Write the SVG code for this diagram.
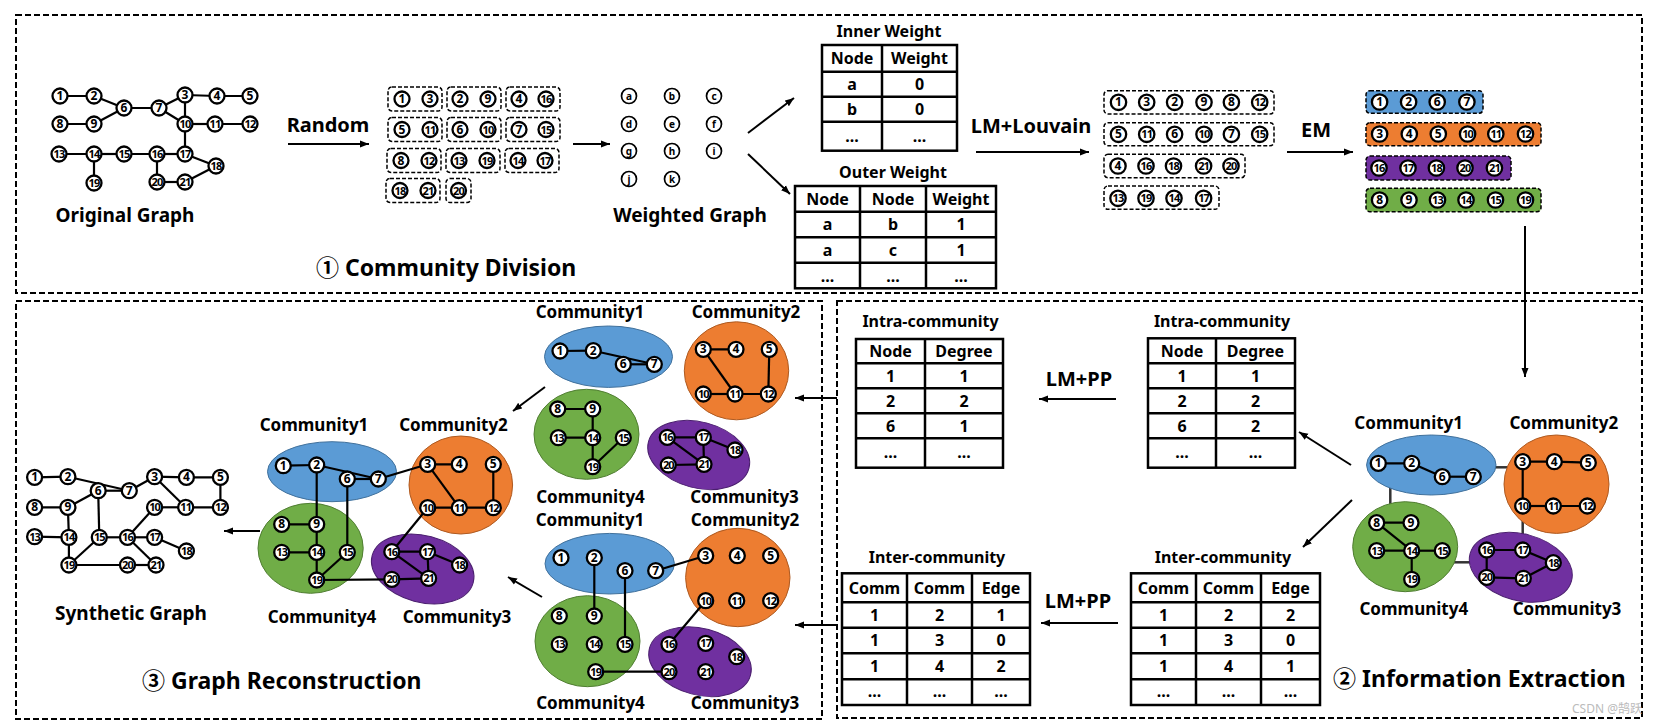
<svg xmlns="http://www.w3.org/2000/svg" width="1655" height="727" viewBox="0 0 1655 727">
<defs>
<marker id="ah" markerUnits="userSpaceOnUse" markerWidth="10" markerHeight="8" refX="9" refY="4" orient="auto"><path d="M0,0.5 L9,4 L0,7.5 z" fill="#000"/></marker>
<style>
text{font-family:"Noto Sans","Liberation Sans","Noto Sans CJK SC",sans-serif;font-weight:bold;fill:#000}
.panel{fill:none;stroke:#000;stroke-width:2;stroke-dasharray:6 3}
.box{fill:none;stroke:#000;stroke-width:1.5;stroke-dasharray:4 2}
.n circle{fill:#fff;stroke:#000;stroke-width:2.3}
.n text{font-size:12px;text-anchor:middle}
.n text.d{font-size:11px;letter-spacing:-0.9px}
.w circle{fill:#fff;stroke:#000;stroke-width:1.7}
.w text{font-size:10px;text-anchor:middle}
.e line{stroke:#000;stroke-width:2.2}
.arr{stroke:#000;stroke-width:2;fill:none;marker-end:url(#ah)}
.tb rect,.tb line{fill:none;stroke:#000;stroke-width:2.5}
.tb text{font-size:16px;text-anchor:middle}
.ttl{font-size:17px;text-anchor:middle}
.lbl{font-size:19px;text-anchor:middle}
.op{font-size:20px;text-anchor:middle}
.sec{font-size:23px}
.cl{font-size:17px;text-anchor:middle}
.blue{fill:#5B9BD5;stroke:#41719C;stroke-width:1}
.orange{fill:#ED7D31;stroke:#AE5A21;stroke-width:1}
.green{fill:#70AD47;stroke:#507E32;stroke-width:1}
.purple{fill:#7030A0;stroke:#4B1F6F;stroke-width:1}
.cb{stroke:#000;stroke-width:1.5;stroke-dasharray:4 2}
.ic line{stroke:#333;stroke-width:2.5}
</style>
</defs>
<rect width="1655" height="727" fill="#fff"/>

<!-- Panels -->
<g id="panels">
<rect class="panel" x="16" y="15" width="1626" height="278"/>
<rect class="panel" x="16" y="301" width="806" height="418"/>
<rect class="panel" x="837" y="301" width="805" height="417"/>
</g>

<!-- Connectors -->
<g id="connectors">
<line class="arr" x1="288" y1="144" x2="369" y2="144"/>
<line class="arr" x1="573" y1="144" x2="610" y2="144"/>
<line class="arr" x1="748" y1="133" x2="794" y2="98"/>
<line class="arr" x1="748" y1="154" x2="790" y2="194"/>
<line class="arr" x1="976" y1="152" x2="1089" y2="152"/>
<line class="arr" x1="1287" y1="152" x2="1353" y2="152"/>
<line class="arr" x1="1525" y1="226" x2="1525" y2="377"/>
<line class="arr" x1="1351" y1="465" x2="1299" y2="432"/>
<line class="arr" x1="1352" y1="500" x2="1303" y2="547"/>
<line class="arr" x1="1116" y1="399" x2="1039" y2="399"/>
<line class="arr" x1="1118" y1="623" x2="1041" y2="623"/>
<line class="arr" x1="837" y1="398" x2="795" y2="398"/>
<line class="arr" x1="837" y1="625" x2="795" y2="625"/>
<line class="arr" x1="545" y1="387" x2="513" y2="411"/>
<line class="arr" x1="542" y1="597" x2="508" y2="577"/>
<line class="arr" x1="260" y1="531" x2="224" y2="531"/>
</g>

<!-- Operation labels -->
<g id="op-labels">
<text class="op" x="328" y="132">Random</text>
<text class="op" x="1031" y="133">LM+Louvain</text>
<text class="op" x="1316" y="137">EM</text>
<text class="op" x="1079" y="386">LM+PP</text>
<text class="op" x="1078" y="608">LM+PP</text>
</g>

<!-- Section titles -->
<g id="section-titles">
<text class="sec" x="316" y="276">① Community Division</text>
<text class="sec" x="142" y="689">③ Graph Reconstruction</text>
<text class="sec" x="1333" y="687">② Information Extraction</text>
<text x="1572" y="713" style="font-size:12px;font-weight:normal;fill:#bbb">CSDN @鹄跃</text>
</g>

<!-- Original Graph -->
<g id="original-graph">
<g class="e">
<line x1="60" y1="96" x2="94" y2="96"/><line x1="94" y1="96" x2="124" y2="108"/><line x1="94" y1="124" x2="124" y2="108"/><line x1="60" y1="124" x2="94" y2="124"/>
<line x1="124" y1="108" x2="159" y2="108"/><line x1="159" y1="108" x2="185" y2="95"/><line x1="159" y1="108" x2="185" y2="124"/><line x1="185" y1="95" x2="185" y2="124"/>
<line x1="185" y1="95" x2="217" y2="96"/><line x1="217" y1="96" x2="250" y2="96"/><line x1="185" y1="124" x2="215" y2="124"/><line x1="215" y1="124" x2="250" y2="124"/>
<line x1="185" y1="124" x2="185" y2="154"/><line x1="59" y1="154" x2="94" y2="154"/><line x1="94" y1="154" x2="124" y2="154"/><line x1="124" y1="154" x2="157" y2="154"/>
<line x1="157" y1="154" x2="185" y2="154"/><line x1="94" y1="154" x2="94" y2="183"/><line x1="157" y1="154" x2="157" y2="182"/><line x1="157" y1="182" x2="185" y2="182"/>
<line x1="185" y1="182" x2="216" y2="166"/><line x1="185" y1="154" x2="216" y2="166"/>
</g>
<g id="og-1" class="n"><circle cx="60" cy="96" r="7.5"/><text x="60" y="100">1</text></g>
<g id="og-2" class="n"><circle cx="94" cy="96" r="7.5"/><text x="94" y="100">2</text></g>
<g id="og-3" class="n"><circle cx="185" cy="95" r="7.5"/><text x="185" y="99">3</text></g>
<g id="og-4" class="n"><circle cx="217" cy="96" r="7.5"/><text x="217" y="100">4</text></g>
<g id="og-5" class="n"><circle cx="250" cy="96" r="7.5"/><text x="250" y="100">5</text></g>
<g id="og-6" class="n"><circle cx="124" cy="108" r="7.5"/><text x="124" y="112">6</text></g>
<g id="og-7" class="n"><circle cx="159" cy="108" r="7.5"/><text x="159" y="112">7</text></g>
<g id="og-8" class="n"><circle cx="60" cy="124" r="7.5"/><text x="60" y="128">8</text></g>
<g id="og-9" class="n"><circle cx="94" cy="124" r="7.5"/><text x="94" y="128">9</text></g>
<g id="og-10" class="n"><circle cx="185" cy="124" r="7.5"/><text class="d" x="185" y="128">10</text></g>
<g id="og-11" class="n"><circle cx="215" cy="124" r="7.5"/><text class="d" x="215" y="128">11</text></g>
<g id="og-12" class="n"><circle cx="250" cy="124" r="7.5"/><text class="d" x="250" y="128">12</text></g>
<g id="og-13" class="n"><circle cx="59" cy="154" r="7.5"/><text class="d" x="59" y="158">13</text></g>
<g id="og-14" class="n"><circle cx="94" cy="154" r="7.5"/><text class="d" x="94" y="158">14</text></g>
<g id="og-15" class="n"><circle cx="124" cy="154" r="7.5"/><text class="d" x="124" y="158">15</text></g>
<g id="og-16" class="n"><circle cx="157" cy="154" r="7.5"/><text class="d" x="157" y="158">16</text></g>
<g id="og-17" class="n"><circle cx="185" cy="154" r="7.5"/><text class="d" x="185" y="158">17</text></g>
<g id="og-18" class="n"><circle cx="216" cy="166" r="7.5"/><text class="d" x="216" y="170">18</text></g>
<g id="og-19" class="n"><circle cx="94" cy="183" r="7.5"/><text class="d" x="94" y="187">19</text></g>
<g id="og-20" class="n"><circle cx="157" cy="182" r="7.5"/><text class="d" x="157" y="186">20</text></g>
<g id="og-21" class="n"><circle cx="185" cy="182" r="7.5"/><text class="d" x="185" y="186">21</text></g>
<text class="lbl" x="125" y="222">Original Graph</text>
</g>

<!-- Random pairs -->
<g id="random-pairs">
<rect class="box" x="388" y="87" width="54" height="24" rx="4"/><rect class="box" x="447" y="87" width="54" height="24" rx="4"/><rect class="box" x="506" y="87" width="54" height="24" rx="4"/>
<rect class="box" x="388" y="117.5" width="54" height="24" rx="4"/><rect class="box" x="447" y="117.5" width="54" height="24" rx="4"/><rect class="box" x="506" y="117.5" width="54" height="24" rx="4"/>
<rect class="box" x="387" y="148.5" width="54" height="24" rx="4"/><rect class="box" x="446" y="148.5" width="54" height="24" rx="4"/><rect class="box" x="505" y="148.5" width="54" height="24" rx="4"/>
<rect class="box" x="386" y="178.5" width="54" height="24" rx="4"/><rect class="box" x="446" y="178.5" width="25" height="24" rx="4"/>
<g id="rp-1" class="n"><circle cx="402" cy="99" r="7.5"/><text x="402" y="103">1</text></g>
<g id="rp-3" class="n"><circle cx="430" cy="99" r="7.5"/><text x="430" y="103">3</text></g>
<g id="rp-2" class="n"><circle cx="460" cy="99" r="7.5"/><text x="460" y="103">2</text></g>
<g id="rp-9" class="n"><circle cx="488" cy="99" r="7.5"/><text x="488" y="103">9</text></g>
<g id="rp-4" class="n"><circle cx="519" cy="99" r="7.5"/><text x="519" y="103">4</text></g>
<g id="rp-16" class="n"><circle cx="546" cy="99" r="7.5"/><text class="d" x="546" y="103">16</text></g>
<g id="rp-5" class="n"><circle cx="402" cy="129.5" r="7.5"/><text x="402" y="133.5">5</text></g>
<g id="rp-11" class="n"><circle cx="430" cy="129.5" r="7.5"/><text class="d" x="430" y="133.5">11</text></g>
<g id="rp-6" class="n"><circle cx="460" cy="129.5" r="7.5"/><text x="460" y="133.5">6</text></g>
<g id="rp-10" class="n"><circle cx="488" cy="129.5" r="7.5"/><text class="d" x="488" y="133.5">10</text></g>
<g id="rp-7" class="n"><circle cx="519" cy="129.5" r="7.5"/><text x="519" y="133.5">7</text></g>
<g id="rp-15" class="n"><circle cx="546" cy="129.5" r="7.5"/><text class="d" x="546" y="133.5">15</text></g>
<g id="rp-8" class="n"><circle cx="401" cy="160.5" r="7.5"/><text x="401" y="164.5">8</text></g>
<g id="rp-12" class="n"><circle cx="429" cy="160.5" r="7.5"/><text class="d" x="429" y="164.5">12</text></g>
<g id="rp-13" class="n"><circle cx="459" cy="160.5" r="7.5"/><text class="d" x="459" y="164.5">13</text></g>
<g id="rp-19" class="n"><circle cx="487" cy="160.5" r="7.5"/><text class="d" x="487" y="164.5">19</text></g>
<g id="rp-14" class="n"><circle cx="518" cy="160.5" r="7.5"/><text class="d" x="518" y="164.5">14</text></g>
<g id="rp-17" class="n"><circle cx="545" cy="160.5" r="7.5"/><text class="d" x="545" y="164.5">17</text></g>
<g id="rp-18" class="n"><circle cx="400" cy="190.5" r="7.5"/><text class="d" x="400" y="194.5">18</text></g>
<g id="rp-21" class="n"><circle cx="428" cy="190.5" r="7.5"/><text class="d" x="428" y="194.5">21</text></g>
<g id="rp-20" class="n"><circle cx="458.5" cy="190.5" r="7.5"/><text class="d" x="458.5" y="194.5">20</text></g>
</g>

<!-- Weighted Graph -->
<g id="weighted-graph">
<g id="wg-a" class="w"><circle cx="629" cy="96" r="7.5"/><text x="629" y="99.5">a</text></g>
<g id="wg-b" class="w"><circle cx="672" cy="96" r="7.5"/><text x="672" y="99.5">b</text></g>
<g id="wg-c" class="w"><circle cx="714" cy="96" r="7.5"/><text x="714" y="99.5">c</text></g>
<g id="wg-d" class="w"><circle cx="629" cy="124" r="7.5"/><text x="629" y="127.5">d</text></g>
<g id="wg-e" class="w"><circle cx="672" cy="124" r="7.5"/><text x="672" y="127.5">e</text></g>
<g id="wg-f" class="w"><circle cx="714" cy="124" r="7.5"/><text x="714" y="127.5">f</text></g>
<g id="wg-g" class="w"><circle cx="629" cy="151" r="7.5"/><text x="629" y="154.5">g</text></g>
<g id="wg-h" class="w"><circle cx="672" cy="151" r="7.5"/><text x="672" y="154.5">h</text></g>
<g id="wg-i" class="w"><circle cx="714" cy="151" r="7.5"/><text x="714" y="154.5">i</text></g>
<g id="wg-j" class="w"><circle cx="629" cy="179" r="7.5"/><text x="629" y="182.5">j</text></g>
<g id="wg-k" class="w"><circle cx="672" cy="179" r="7.5"/><text x="672" y="182.5">k</text></g>
<text class="lbl" x="690" y="222">Weighted Graph</text>
</g>

<!-- Inner Weight table -->
<g id="inner-weight" class="tb">
<text class="ttl" x="889" y="37">Inner Weight</text>
<rect x="822" y="45" width="135" height="105.7"/>
<line x1="882" y1="45" x2="882" y2="150.7"/>
<line x1="822" y1="71.7" x2="957" y2="71.7"/><line x1="822" y1="96.7" x2="957" y2="96.7"/><line x1="822" y1="121.7" x2="957" y2="121.7"/>
<text x="852" y="64">Node</text><text x="919.5" y="64">Weight</text>
<text x="852" y="90">a</text><text x="919.5" y="90">0</text>
<text x="852" y="115">b</text><text x="919.5" y="115">0</text>
<text x="852" y="142">...</text><text x="919.5" y="142">...</text>
</g>

<!-- Outer Weight table -->
<g id="outer-weight" class="tb">
<text class="ttl" x="893" y="178">Outer Weight</text>
<rect x="795" y="186" width="201" height="102.3"/>
<line x1="860" y1="186" x2="860" y2="288.3"/><line x1="926" y1="186" x2="926" y2="288.3"/>
<line x1="795" y1="211.7" x2="996" y2="211.7"/><line x1="795" y1="237.3" x2="996" y2="237.3"/><line x1="795" y1="262.7" x2="996" y2="262.7"/>
<text x="827.5" y="204.5">Node</text><text x="893" y="204.5">Node</text><text x="961" y="204.5">Weight</text>
<text x="827.5" y="230">a</text><text x="893" y="230">b</text><text x="961" y="230">1</text>
<text x="827.5" y="255.7">a</text><text x="893" y="255.7">c</text><text x="961" y="255.7">1</text>
<text x="827.5" y="282">...</text><text x="893" y="282">...</text><text x="961" y="282">...</text>
</g>

<!-- Louvain groups -->
<g id="louvain-groups">
<rect class="box" x="1104" y="90.7" width="170" height="23.3" rx="4"/>
<rect class="box" x="1104" y="122.7" width="170" height="23" rx="4"/>
<rect class="box" x="1104" y="154.3" width="141" height="23.4" rx="4"/>
<rect class="box" x="1104" y="186" width="115" height="23.3" rx="4"/>
<g id="lv-1" class="n"><circle cx="1118.5" cy="102.3" r="7.7"/><text x="1118.5" y="106.3">1</text></g>
<g id="lv-3" class="n"><circle cx="1146.7" cy="102.3" r="7.7"/><text x="1146.7" y="106.3">3</text></g>
<g id="lv-2" class="n"><circle cx="1174.6" cy="102.3" r="7.7"/><text x="1174.6" y="106.3">2</text></g>
<g id="lv-9" class="n"><circle cx="1204" cy="102.3" r="7.7"/><text x="1204" y="106.3">9</text></g>
<g id="lv-8" class="n"><circle cx="1231.4" cy="102.3" r="7.7"/><text x="1231.4" y="106.3">8</text></g>
<g id="lv-12" class="n"><circle cx="1259.7" cy="102.3" r="7.7"/><text class="d" x="1259.7" y="106.3">12</text></g>
<g id="lv-5" class="n"><circle cx="1118.5" cy="134.3" r="7.7"/><text x="1118.5" y="138.3">5</text></g>
<g id="lv-11" class="n"><circle cx="1146.7" cy="134.3" r="7.7"/><text class="d" x="1146.7" y="138.3">11</text></g>
<g id="lv-6" class="n"><circle cx="1174.6" cy="134.3" r="7.7"/><text x="1174.6" y="138.3">6</text></g>
<g id="lv-10" class="n"><circle cx="1204" cy="134.3" r="7.7"/><text class="d" x="1204" y="138.3">10</text></g>
<g id="lv-7" class="n"><circle cx="1231.4" cy="134.3" r="7.7"/><text x="1231.4" y="138.3">7</text></g>
<g id="lv-15" class="n"><circle cx="1259.7" cy="134.3" r="7.7"/><text class="d" x="1259.7" y="138.3">15</text></g>
<g id="lv-4" class="n"><circle cx="1118" cy="166" r="7.7"/><text x="1118" y="170">4</text></g>
<g id="lv-16" class="n"><circle cx="1146" cy="166" r="7.7"/><text class="d" x="1146" y="170">16</text></g>
<g id="lv-18" class="n"><circle cx="1173.5" cy="166" r="7.7"/><text class="d" x="1173.5" y="170">18</text></g>
<g id="lv-21" class="n"><circle cx="1203.6" cy="166" r="7.7"/><text class="d" x="1203.6" y="170">21</text></g>
<g id="lv-20" class="n"><circle cx="1231" cy="166" r="7.7"/><text class="d" x="1231" y="170">20</text></g>
<g id="lv-13" class="n"><circle cx="1118" cy="198.3" r="7.7"/><text class="d" x="1118" y="202.3">13</text></g>
<g id="lv-19" class="n"><circle cx="1146" cy="198.3" r="7.7"/><text class="d" x="1146" y="202.3">19</text></g>
<g id="lv-14" class="n"><circle cx="1174" cy="198.3" r="7.7"/><text class="d" x="1174" y="202.3">14</text></g>
<g id="lv-17" class="n"><circle cx="1203.6" cy="198.3" r="7.7"/><text class="d" x="1203.6" y="202.3">17</text></g>
</g>

<!-- EM communities -->
<g id="em-communities">
<rect class="cb" x="1366" y="90.7" width="117" height="22.6" rx="4" fill="#5B9BD5"/>
<rect class="cb" x="1366" y="122.7" width="175" height="23" rx="4" fill="#ED7D31"/>
<rect class="cb" x="1366" y="156" width="145" height="24" rx="4" fill="#7030A0"/>
<rect class="cb" x="1366" y="188.3" width="175" height="23.4" rx="4" fill="#70AD47"/>
<g id="em-1" class="n"><circle cx="1379.6" cy="102" r="7.7"/><text x="1379.6" y="106">1</text></g>
<g id="em-2" class="n"><circle cx="1408.6" cy="102" r="7.7"/><text x="1408.6" y="106">2</text></g>
<g id="em-6" class="n"><circle cx="1437.2" cy="102" r="7.7"/><text x="1437.2" y="106">6</text></g>
<g id="em-7" class="n"><circle cx="1466.9" cy="102" r="7.7"/><text x="1466.9" y="106">7</text></g>
<g id="em-3" class="n"><circle cx="1379.6" cy="134" r="7.7"/><text x="1379.6" y="138">3</text></g>
<g id="em-4" class="n"><circle cx="1409.3" cy="134" r="7.7"/><text x="1409.3" y="138">4</text></g>
<g id="em-5" class="n"><circle cx="1438.3" cy="134" r="7.7"/><text x="1438.3" y="138">5</text></g>
<g id="em-10" class="n"><circle cx="1467.6" cy="134" r="7.7"/><text class="d" x="1467.6" y="138">10</text></g>
<g id="em-11" class="n"><circle cx="1495.8" cy="134" r="7.7"/><text class="d" x="1495.8" y="138">11</text></g>
<g id="em-12" class="n"><circle cx="1525.5" cy="134" r="7.7"/><text class="d" x="1525.5" y="138">12</text></g>
<g id="em-16" class="n"><circle cx="1379" cy="168" r="7.7"/><text class="d" x="1379" y="172">16</text></g>
<g id="em-17" class="n"><circle cx="1408" cy="168" r="7.7"/><text class="d" x="1408" y="172">17</text></g>
<g id="em-18" class="n"><circle cx="1436.4" cy="168" r="7.7"/><text class="d" x="1436.4" y="172">18</text></g>
<g id="em-20" class="n"><circle cx="1465" cy="168" r="7.7"/><text class="d" x="1465" y="172">20</text></g>
<g id="em-21" class="n"><circle cx="1494.4" cy="168" r="7.7"/><text class="d" x="1494.4" y="172">21</text></g>
<g id="em-8" class="n"><circle cx="1379.6" cy="200" r="7.7"/><text x="1379.6" y="204">8</text></g>
<g id="em-9" class="n"><circle cx="1409" cy="200" r="7.7"/><text x="1409" y="204">9</text></g>
<g id="em-13" class="n"><circle cx="1437.5" cy="200" r="7.7"/><text class="d" x="1437.5" y="204">13</text></g>
<g id="em-14" class="n"><circle cx="1466" cy="200" r="7.7"/><text class="d" x="1466" y="204">14</text></g>
<g id="em-15" class="n"><circle cx="1495.5" cy="200" r="7.7"/><text class="d" x="1495.5" y="204">15</text></g>
<g id="em-19" class="n"><circle cx="1525.5" cy="200" r="7.7"/><text class="d" x="1525.5" y="204">19</text></g>
</g>

<!-- Panel 2: community graph -->
<g id="ie-community-graph">
<g class="ic">
<line x1="1490" y1="467.3" x2="1512" y2="467.3"/>
<line x1="1390.3" y1="485" x2="1390.3" y2="508"/>
<line x1="1522.7" y1="518" x2="1522.7" y2="540"/>
<line x1="1450" y1="562.3" x2="1474" y2="562.3"/>
</g>
<ellipse class="blue" cx="1431.3" cy="465" rx="64.7" ry="30"/>
<ellipse class="orange" cx="1556.5" cy="484.2" rx="52.5" ry="49.2"/>
<ellipse class="green" cx="1405.2" cy="546.7" rx="52.5" ry="45"/>
<ellipse class="purple" cx="1520.8" cy="567.3" rx="52.5" ry="33.3" transform="rotate(15 1520.8 567.3)"/>
<g class="e">
<line x1="1378.3" y1="463.3" x2="1411.7" y2="463.3"/><line x1="1411.7" y1="463.3" x2="1442.3" y2="476.7"/><line x1="1442.3" y1="476.7" x2="1473.3" y2="476.7"/>
<line x1="1522.7" y1="461.7" x2="1554.3" y2="461.7"/><line x1="1554.3" y1="461.7" x2="1588.3" y2="462.7"/><line x1="1522.7" y1="461.7" x2="1522.7" y2="506"/><line x1="1522.7" y1="506" x2="1553.3" y2="506"/><line x1="1553.3" y1="506" x2="1587.3" y2="506"/>
<line x1="1376.7" y1="522.7" x2="1411" y2="522.7"/><line x1="1376.7" y1="522.7" x2="1411.7" y2="550.7"/><line x1="1376.7" y1="550.7" x2="1411.7" y2="550.7"/><line x1="1411.7" y1="550.7" x2="1442.3" y2="550.7"/><line x1="1411.7" y1="550.7" x2="1411.7" y2="579.3"/>
<line x1="1486.7" y1="550" x2="1522.7" y2="550"/><line x1="1522.7" y1="550" x2="1553.3" y2="562.7"/><line x1="1553.3" y1="562.7" x2="1523.3" y2="578.3"/><line x1="1523.3" y1="578.3" x2="1486.7" y2="577.3"/><line x1="1486.7" y1="577.3" x2="1486.7" y2="550"/>
</g>
<g id="ie-1" class="n"><circle cx="1378.3" cy="463.3" r="7.5"/><text x="1378.3" y="467.3">1</text></g>
<g id="ie-2" class="n"><circle cx="1411.7" cy="463.3" r="7.5"/><text x="1411.7" y="467.3">2</text></g>
<g id="ie-6" class="n"><circle cx="1442.3" cy="476.7" r="7.5"/><text x="1442.3" y="480.7">6</text></g>
<g id="ie-7" class="n"><circle cx="1473.3" cy="476.7" r="7.5"/><text x="1473.3" y="480.7">7</text></g>
<g id="ie-3" class="n"><circle cx="1522.7" cy="461.7" r="7.5"/><text x="1522.7" y="465.7">3</text></g>
<g id="ie-4" class="n"><circle cx="1554.3" cy="461.7" r="7.5"/><text x="1554.3" y="465.7">4</text></g>
<g id="ie-5" class="n"><circle cx="1588.3" cy="462.7" r="7.5"/><text x="1588.3" y="466.7">5</text></g>
<g id="ie-10" class="n"><circle cx="1522.7" cy="506" r="7.5"/><text class="d" x="1522.7" y="510">10</text></g>
<g id="ie-11" class="n"><circle cx="1553.3" cy="506" r="7.5"/><text class="d" x="1553.3" y="510">11</text></g>
<g id="ie-12" class="n"><circle cx="1587.3" cy="506" r="7.5"/><text class="d" x="1587.3" y="510">12</text></g>
<g id="ie-8" class="n"><circle cx="1376.7" cy="522.7" r="7.5"/><text x="1376.7" y="526.7">8</text></g>
<g id="ie-9" class="n"><circle cx="1411" cy="522.7" r="7.5"/><text x="1411" y="526.7">9</text></g>
<g id="ie-13" class="n"><circle cx="1376.7" cy="550.7" r="7.5"/><text class="d" x="1376.7" y="554.7">13</text></g>
<g id="ie-14" class="n"><circle cx="1411.7" cy="550.7" r="7.5"/><text class="d" x="1411.7" y="554.7">14</text></g>
<g id="ie-15" class="n"><circle cx="1442.3" cy="550.7" r="7.5"/><text class="d" x="1442.3" y="554.7">15</text></g>
<g id="ie-19" class="n"><circle cx="1411.7" cy="579.3" r="7.5"/><text class="d" x="1411.7" y="583.3">19</text></g>
<g id="ie-16" class="n"><circle cx="1486.7" cy="550" r="7.5"/><text class="d" x="1486.7" y="554">16</text></g>
<g id="ie-17" class="n"><circle cx="1522.7" cy="550" r="7.5"/><text class="d" x="1522.7" y="554">17</text></g>
<g id="ie-18" class="n"><circle cx="1553.3" cy="562.7" r="7.5"/><text class="d" x="1553.3" y="566.7">18</text></g>
<g id="ie-20" class="n"><circle cx="1486.7" cy="577.3" r="7.5"/><text class="d" x="1486.7" y="581.3">20</text></g>
<g id="ie-21" class="n"><circle cx="1523.3" cy="578.3" r="7.5"/><text class="d" x="1523.3" y="582.3">21</text></g>
<text class="cl" x="1408.7" y="429">Community1</text>
<text class="cl" x="1563.8" y="429">Community2</text>
<text class="cl" x="1413.8" y="615">Community4</text>
<text class="cl" x="1567" y="615">Community3</text>
</g>

<!-- Panel 2 tables -->
<g id="intra-right" class="tb">
<text class="ttl" x="1222" y="327">Intra-community</text>
<rect x="1148" y="338.3" width="147" height="129.4"/>
<line x1="1216" y1="338.3" x2="1216" y2="467.7"/>
<line x1="1148" y1="363.3" x2="1295" y2="363.3"/><line x1="1148" y1="388.3" x2="1295" y2="388.3"/><line x1="1148" y1="413.3" x2="1295" y2="413.3"/><line x1="1148" y1="438.3" x2="1295" y2="438.3"/>
<text x="1182" y="356.5">Node</text><text x="1255.5" y="356.5">Degree</text>
<text x="1182" y="381.5">1</text><text x="1255.5" y="381.5">1</text>
<text x="1182" y="406.5">2</text><text x="1255.5" y="406.5">2</text>
<text x="1182" y="431.5">6</text><text x="1255.5" y="431.5">2</text>
<text x="1182" y="458">...</text><text x="1255.5" y="458">...</text>
</g>
<g id="inter-right" class="tb">
<text class="ttl" x="1223" y="563">Inter-community</text>
<rect x="1131" y="573.3" width="189" height="131.7"/>
<line x1="1196" y1="573.3" x2="1196" y2="705"/><line x1="1261" y1="573.3" x2="1261" y2="705"/>
<line x1="1131" y1="602.3" x2="1320" y2="602.3"/><line x1="1131" y1="627.7" x2="1320" y2="627.7"/><line x1="1131" y1="653.3" x2="1320" y2="653.3"/><line x1="1131" y1="679.3" x2="1320" y2="679.3"/>
<text x="1163.5" y="593.5">Comm</text><text x="1228.5" y="593.5">Comm</text><text x="1290.5" y="593.5">Edge</text>
<text x="1163.5" y="620.7">1</text><text x="1228.5" y="620.7">2</text><text x="1290.5" y="620.7">2</text>
<text x="1163.5" y="646.2">1</text><text x="1228.5" y="646.2">3</text><text x="1290.5" y="646.2">0</text>
<text x="1163.5" y="672">1</text><text x="1228.5" y="672">4</text><text x="1290.5" y="672">1</text>
<text x="1163.5" y="697">...</text><text x="1228.5" y="697">...</text><text x="1290.5" y="697">...</text>
</g>
<g id="intra-left" class="tb">
<text class="ttl" x="930.5" y="327">Intra-community</text>
<rect x="856" y="339" width="147" height="128.7"/>
<line x1="925" y1="339" x2="925" y2="467.7"/>
<line x1="856" y1="363.3" x2="1003" y2="363.3"/><line x1="856" y1="388.3" x2="1003" y2="388.3"/><line x1="856" y1="413.3" x2="1003" y2="413.3"/><line x1="856" y1="438.3" x2="1003" y2="438.3"/>
<text x="890.5" y="357">Node</text><text x="964" y="357">Degree</text>
<text x="890.5" y="381.5">1</text><text x="964" y="381.5">1</text>
<text x="890.5" y="406.5">2</text><text x="964" y="406.5">2</text>
<text x="890.5" y="431.5">6</text><text x="964" y="431.5">1</text>
<text x="890.5" y="458">...</text><text x="964" y="458">...</text>
</g>
<g id="inter-left" class="tb">
<text class="ttl" x="937" y="563">Inter-community</text>
<rect x="842" y="573.3" width="188" height="131.7"/>
<line x1="907" y1="573.3" x2="907" y2="705"/><line x1="972" y1="573.3" x2="972" y2="705"/>
<line x1="842" y1="602.3" x2="1030" y2="602.3"/><line x1="842" y1="627.7" x2="1030" y2="627.7"/><line x1="842" y1="653.3" x2="1030" y2="653.3"/><line x1="842" y1="679.3" x2="1030" y2="679.3"/>
<text x="874.5" y="593.5">Comm</text><text x="939.5" y="593.5">Comm</text><text x="1001" y="593.5">Edge</text>
<text x="874.5" y="620.7">1</text><text x="939.5" y="620.7">2</text><text x="1001" y="620.7">1</text>
<text x="874.5" y="646.2">1</text><text x="939.5" y="646.2">3</text><text x="1001" y="646.2">0</text>
<text x="874.5" y="672">1</text><text x="939.5" y="672">4</text><text x="1001" y="672">2</text>
<text x="874.5" y="697">...</text><text x="939.5" y="697">...</text><text x="1001" y="697">...</text>
</g>

<!-- Panel 3: top communities (intra) -->
<g id="gr-intra">
<ellipse class="blue" cx="608.5" cy="356.7" rx="64" ry="30.7"/>
<ellipse class="orange" cx="736.5" cy="370.8" rx="52.2" ry="49"/>
<ellipse class="green" cx="586.5" cy="434.3" rx="52.5" ry="45"/>
<ellipse class="purple" cx="698.7" cy="455" rx="52" ry="33" transform="rotate(15 698.7 455)"/>
<g class="e">
<line x1="560" y1="351" x2="593.3" y2="350.7"/><line x1="593.3" y1="350.7" x2="654.3" y2="364.3"/><line x1="623.3" y1="364.3" x2="654.3" y2="364.3"/>
<line x1="703.3" y1="349.3" x2="736" y2="349.3"/><line x1="703.3" y1="349.3" x2="735" y2="394"/><line x1="703.3" y1="394" x2="735" y2="394"/><line x1="735" y1="394" x2="768.3" y2="394"/><line x1="769.3" y1="349.3" x2="768.3" y2="394"/>
<line x1="557.7" y1="409" x2="592.7" y2="409"/><line x1="592.7" y1="409" x2="592.7" y2="466.7"/><line x1="558.3" y1="437.7" x2="592.7" y2="437.7"/><line x1="623.3" y1="437.7" x2="592.7" y2="466.7"/>
<line x1="667.3" y1="437.3" x2="703.3" y2="437.3"/><line x1="667.3" y1="437.3" x2="704" y2="464.3"/><line x1="703.3" y1="437.3" x2="704" y2="464.3"/><line x1="703.3" y1="437.3" x2="735" y2="450"/><line x1="668.3" y1="465" x2="704" y2="464.3"/>
</g>
<g id="gi-1" class="n"><circle cx="560" cy="351" r="7.5"/><text x="560" y="355">1</text></g>
<g id="gi-2" class="n"><circle cx="593.3" cy="350.7" r="7.5"/><text x="593.3" y="354.7">2</text></g>
<g id="gi-6" class="n"><circle cx="623.3" cy="364.3" r="7.5"/><text x="623.3" y="368.3">6</text></g>
<g id="gi-7" class="n"><circle cx="654.3" cy="364.3" r="7.5"/><text x="654.3" y="368.3">7</text></g>
<g id="gi-3" class="n"><circle cx="703.3" cy="349.3" r="7.5"/><text x="703.3" y="353.3">3</text></g>
<g id="gi-4" class="n"><circle cx="736" cy="349.3" r="7.5"/><text x="736" y="353.3">4</text></g>
<g id="gi-5" class="n"><circle cx="769.3" cy="349.3" r="7.5"/><text x="769.3" y="353.3">5</text></g>
<g id="gi-10" class="n"><circle cx="703.3" cy="394" r="7.5"/><text class="d" x="703.3" y="398">10</text></g>
<g id="gi-11" class="n"><circle cx="735" cy="394" r="7.5"/><text class="d" x="735" y="398">11</text></g>
<g id="gi-12" class="n"><circle cx="768.3" cy="394" r="7.5"/><text class="d" x="768.3" y="398">12</text></g>
<g id="gi-8" class="n"><circle cx="557.7" cy="409" r="7.5"/><text x="557.7" y="413">8</text></g>
<g id="gi-9" class="n"><circle cx="592.7" cy="409" r="7.5"/><text x="592.7" y="413">9</text></g>
<g id="gi-13" class="n"><circle cx="558.3" cy="437.7" r="7.5"/><text class="d" x="558.3" y="441.7">13</text></g>
<g id="gi-14" class="n"><circle cx="592.7" cy="437.7" r="7.5"/><text class="d" x="592.7" y="441.7">14</text></g>
<g id="gi-15" class="n"><circle cx="623.3" cy="437.7" r="7.5"/><text class="d" x="623.3" y="441.7">15</text></g>
<g id="gi-19" class="n"><circle cx="592.7" cy="466.7" r="7.5"/><text class="d" x="592.7" y="470.7">19</text></g>
<g id="gi-16" class="n"><circle cx="667.3" cy="437.3" r="7.5"/><text class="d" x="667.3" y="441.3">16</text></g>
<g id="gi-17" class="n"><circle cx="703.3" cy="437.3" r="7.5"/><text class="d" x="703.3" y="441.3">17</text></g>
<g id="gi-18" class="n"><circle cx="735" cy="450" r="7.5"/><text class="d" x="735" y="454">18</text></g>
<g id="gi-20" class="n"><circle cx="668.3" cy="465" r="7.5"/><text class="d" x="668.3" y="469">20</text></g>
<g id="gi-21" class="n"><circle cx="704" cy="464.3" r="7.5"/><text class="d" x="704" y="468.3">21</text></g>
<text class="cl" x="590" y="318">Community1</text>
<text class="cl" x="746" y="318">Community2</text>
<text class="cl" x="590.5" y="503">Community4</text>
<text class="cl" x="744.5" y="503">Community3</text>
</g>

<!-- Panel 3: bottom communities (inter) -->
<g id="gr-inter">
<ellipse class="blue" cx="609.7" cy="563.7" rx="64.7" ry="30.3"/>
<ellipse class="orange" cx="737.8" cy="577.5" rx="52.2" ry="49.2"/>
<ellipse class="green" cx="587.5" cy="641.2" rx="52.5" ry="45.5"/>
<ellipse class="purple" cx="700" cy="661.7" rx="52.3" ry="33.3" transform="rotate(15 700 661.7)"/>
<g class="e">
<line x1="655.7" y1="570.7" x2="705.7" y2="555.7"/><line x1="594.3" y1="557.7" x2="594.3" y2="616"/><line x1="625" y1="570.7" x2="625" y2="644.3"/><line x1="705.7" y1="600.7" x2="669" y2="644.3"/><line x1="595.7" y1="671.7" x2="669" y2="671.7"/>
</g>
<g id="gx-1" class="n"><circle cx="561" cy="557.7" r="7.5"/><text x="561" y="561.7">1</text></g>
<g id="gx-2" class="n"><circle cx="594.3" cy="557.7" r="7.5"/><text x="594.3" y="561.7">2</text></g>
<g id="gx-6" class="n"><circle cx="625" cy="570.7" r="7.5"/><text x="625" y="574.7">6</text></g>
<g id="gx-7" class="n"><circle cx="655.7" cy="570.7" r="7.5"/><text x="655.7" y="574.7">7</text></g>
<g id="gx-3" class="n"><circle cx="705.7" cy="555.7" r="7.5"/><text x="705.7" y="559.7">3</text></g>
<g id="gx-4" class="n"><circle cx="737.3" cy="555.7" r="7.5"/><text x="737.3" y="559.7">4</text></g>
<g id="gx-5" class="n"><circle cx="770.7" cy="555.7" r="7.5"/><text x="770.7" y="559.7">5</text></g>
<g id="gx-10" class="n"><circle cx="705.7" cy="600.7" r="7.5"/><text class="d" x="705.7" y="604.7">10</text></g>
<g id="gx-11" class="n"><circle cx="736.7" cy="600.7" r="7.5"/><text class="d" x="736.7" y="604.7">11</text></g>
<g id="gx-12" class="n"><circle cx="770.7" cy="600.7" r="7.5"/><text class="d" x="770.7" y="604.7">12</text></g>
<g id="gx-8" class="n"><circle cx="559.3" cy="616" r="7.5"/><text x="559.3" y="620">8</text></g>
<g id="gx-9" class="n"><circle cx="594.3" cy="616" r="7.5"/><text x="594.3" y="620">9</text></g>
<g id="gx-13" class="n"><circle cx="559.3" cy="644.3" r="7.5"/><text class="d" x="559.3" y="648.3">13</text></g>
<g id="gx-14" class="n"><circle cx="594.3" cy="644.3" r="7.5"/><text class="d" x="594.3" y="648.3">14</text></g>
<g id="gx-15" class="n"><circle cx="625" cy="644.3" r="7.5"/><text class="d" x="625" y="648.3">15</text></g>
<g id="gx-19" class="n"><circle cx="595.7" cy="671.7" r="7.5"/><text class="d" x="595.7" y="675.7">19</text></g>
<g id="gx-16" class="n"><circle cx="669" cy="644.3" r="7.5"/><text class="d" x="669" y="648.3">16</text></g>
<g id="gx-17" class="n"><circle cx="705.7" cy="643.3" r="7.5"/><text class="d" x="705.7" y="647.3">17</text></g>
<g id="gx-18" class="n"><circle cx="736.7" cy="656.7" r="7.5"/><text class="d" x="736.7" y="660.7">18</text></g>
<g id="gx-20" class="n"><circle cx="669" cy="671.7" r="7.5"/><text class="d" x="669" y="675.7">20</text></g>
<g id="gx-21" class="n"><circle cx="705.7" cy="671.7" r="7.5"/><text class="d" x="705.7" y="675.7">21</text></g>
<text class="cl" x="590" y="526">Community1</text>
<text class="cl" x="745" y="526">Community2</text>
<text class="cl" x="590.5" y="709">Community4</text>
<text class="cl" x="745" y="709">Community3</text>
</g>

<!-- Panel 3: combined communities -->
<g id="gr-combined">
<ellipse class="blue" cx="332" cy="471.7" rx="64.5" ry="30"/>
<ellipse class="orange" cx="460.8" cy="485" rx="51.8" ry="49"/>
<ellipse class="green" cx="310.6" cy="548.3" rx="52.6" ry="45"/>
<ellipse class="purple" cx="422.7" cy="569" rx="52.3" ry="33.3" transform="rotate(15 422.7 569)"/>
<g class="e">
<line x1="283.3" y1="465.7" x2="316.7" y2="465"/><line x1="316.7" y1="465" x2="378.3" y2="479"/><line x1="347.3" y1="479" x2="378.3" y2="479"/><line x1="378.3" y1="479" x2="427.7" y2="464.3"/>
<line x1="316.7" y1="465" x2="316.7" y2="524.3"/><line x1="347.3" y1="479" x2="347.3" y2="552.3"/>
<line x1="427.7" y1="464.3" x2="459.3" y2="464.3"/><line x1="427.7" y1="464.3" x2="459.3" y2="507.7"/><line x1="427.7" y1="507.7" x2="459.3" y2="507.7"/><line x1="459.3" y1="507.7" x2="493.3" y2="507.7"/><line x1="493.3" y1="464.3" x2="493.3" y2="507.7"/>
<line x1="427.7" y1="507.7" x2="391.8" y2="551.7"/>
<line x1="281.7" y1="524.3" x2="316.7" y2="524.3"/><line x1="316.7" y1="524.3" x2="316.7" y2="580"/><line x1="281.7" y1="552.3" x2="316.7" y2="552.3"/><line x1="347.3" y1="552.3" x2="316.7" y2="580"/>
<line x1="316.7" y1="580" x2="391.8" y2="579.3"/>
<line x1="391.8" y1="551.7" x2="427.5" y2="551.7"/><line x1="391.8" y1="551.7" x2="428.6" y2="578.3"/><line x1="427.5" y1="551.7" x2="428.6" y2="578.3"/><line x1="427.5" y1="551.7" x2="459.6" y2="565"/><line x1="391.8" y1="579.3" x2="428.6" y2="578.3"/>
</g>
<g id="gc-1" class="n"><circle cx="283.3" cy="465.7" r="7.5"/><text x="283.3" y="469.7">1</text></g>
<g id="gc-2" class="n"><circle cx="316.7" cy="465" r="7.5"/><text x="316.7" y="469">2</text></g>
<g id="gc-6" class="n"><circle cx="347.3" cy="479" r="7.5"/><text x="347.3" y="483">6</text></g>
<g id="gc-7" class="n"><circle cx="378.3" cy="479" r="7.5"/><text x="378.3" y="483">7</text></g>
<g id="gc-3" class="n"><circle cx="427.7" cy="464.3" r="7.5"/><text x="427.7" y="468.3">3</text></g>
<g id="gc-4" class="n"><circle cx="459.3" cy="464.3" r="7.5"/><text x="459.3" y="468.3">4</text></g>
<g id="gc-5" class="n"><circle cx="493.3" cy="464.3" r="7.5"/><text x="493.3" y="468.3">5</text></g>
<g id="gc-10" class="n"><circle cx="427.7" cy="507.7" r="7.5"/><text class="d" x="427.7" y="511.7">10</text></g>
<g id="gc-11" class="n"><circle cx="459.3" cy="507.7" r="7.5"/><text class="d" x="459.3" y="511.7">11</text></g>
<g id="gc-12" class="n"><circle cx="493.3" cy="507.7" r="7.5"/><text class="d" x="493.3" y="511.7">12</text></g>
<g id="gc-8" class="n"><circle cx="281.7" cy="524.3" r="7.5"/><text x="281.7" y="528.3">8</text></g>
<g id="gc-9" class="n"><circle cx="316.7" cy="524.3" r="7.5"/><text x="316.7" y="528.3">9</text></g>
<g id="gc-13" class="n"><circle cx="281.7" cy="552.3" r="7.5"/><text class="d" x="281.7" y="556.3">13</text></g>
<g id="gc-14" class="n"><circle cx="316.7" cy="552.3" r="7.5"/><text class="d" x="316.7" y="556.3">14</text></g>
<g id="gc-15" class="n"><circle cx="347.3" cy="552.3" r="7.5"/><text class="d" x="347.3" y="556.3">15</text></g>
<g id="gc-19" class="n"><circle cx="316.7" cy="580" r="7.5"/><text class="d" x="316.7" y="584">19</text></g>
<g id="gc-16" class="n"><circle cx="391.8" cy="551.7" r="7.5"/><text class="d" x="391.8" y="555.7">16</text></g>
<g id="gc-17" class="n"><circle cx="427.5" cy="551.7" r="7.5"/><text class="d" x="427.5" y="555.7">17</text></g>
<g id="gc-18" class="n"><circle cx="459.6" cy="565" r="7.5"/><text class="d" x="459.6" y="569">18</text></g>
<g id="gc-20" class="n"><circle cx="391.8" cy="579.3" r="7.5"/><text class="d" x="391.8" y="583.3">20</text></g>
<g id="gc-21" class="n"><circle cx="428.6" cy="578.3" r="7.5"/><text class="d" x="428.6" y="582.3">21</text></g>
<text class="cl" x="314" y="431">Community1</text>
<text class="cl" x="453.5" y="431">Community2</text>
<text class="cl" x="322" y="623">Community4</text>
<text class="cl" x="457" y="623">Community3</text>
</g>

<!-- Synthetic Graph -->
<g id="synthetic-graph">
<g class="e">
<line x1="34.6" y1="477.3" x2="67.9" y2="476.7"/><line x1="67.9" y1="476.7" x2="129.3" y2="490.7"/><line x1="98.2" y1="490.7" x2="129.3" y2="490.7"/><line x1="129.3" y1="490.7" x2="154.6" y2="476.7"/>
<line x1="154.6" y1="476.7" x2="186.4" y2="477.3"/><line x1="186.4" y1="477.3" x2="220.4" y2="477.3"/><line x1="154.6" y1="476.7" x2="185.7" y2="507.3"/><line x1="220.4" y1="477.3" x2="220.4" y2="507.3"/>
<line x1="154.6" y1="507.3" x2="185.7" y2="507.3"/><line x1="185.7" y1="507.3" x2="220.4" y2="507.3"/>
<line x1="34.6" y1="507.3" x2="67.9" y2="507.3"/><line x1="67.9" y1="507.3" x2="98.2" y2="490.7"/><line x1="98.2" y1="490.7" x2="99.3" y2="537.3"/><line x1="67.9" y1="507.3" x2="68.9" y2="537.3"/>
<line x1="34.6" y1="536.7" x2="68.9" y2="537.3"/><line x1="68.9" y1="537.3" x2="68.9" y2="565"/><line x1="99.3" y1="537.3" x2="68.9" y2="565"/><line x1="99.3" y1="537.3" x2="127.5" y2="537.3"/>
<line x1="127.5" y1="537.3" x2="154.6" y2="507.3"/><line x1="127.5" y1="537.3" x2="154.6" y2="537.3"/><line x1="127.5" y1="537.3" x2="156" y2="565"/><line x1="154.6" y1="537.3" x2="186.4" y2="551"/>
<line x1="68.9" y1="565" x2="127.5" y2="565"/><line x1="127.5" y1="565" x2="156" y2="565"/>
</g>
<g id="sg-1" class="n"><circle cx="34.6" cy="477.3" r="7.5"/><text x="34.6" y="481.3">1</text></g>
<g id="sg-2" class="n"><circle cx="67.9" cy="476.7" r="7.5"/><text x="67.9" y="480.7">2</text></g>
<g id="sg-3" class="n"><circle cx="154.6" cy="476.7" r="7.5"/><text x="154.6" y="480.7">3</text></g>
<g id="sg-4" class="n"><circle cx="186.4" cy="477.3" r="7.5"/><text x="186.4" y="481.3">4</text></g>
<g id="sg-5" class="n"><circle cx="220.4" cy="477.3" r="7.5"/><text x="220.4" y="481.3">5</text></g>
<g id="sg-6" class="n"><circle cx="98.2" cy="490.7" r="7.5"/><text x="98.2" y="494.7">6</text></g>
<g id="sg-7" class="n"><circle cx="129.3" cy="490.7" r="7.5"/><text x="129.3" y="494.7">7</text></g>
<g id="sg-8" class="n"><circle cx="34.6" cy="507.3" r="7.5"/><text x="34.6" y="511.3">8</text></g>
<g id="sg-9" class="n"><circle cx="67.9" cy="507.3" r="7.5"/><text x="67.9" y="511.3">9</text></g>
<g id="sg-10" class="n"><circle cx="154.6" cy="507.3" r="7.5"/><text class="d" x="154.6" y="511.3">10</text></g>
<g id="sg-11" class="n"><circle cx="185.7" cy="507.3" r="7.5"/><text class="d" x="185.7" y="511.3">11</text></g>
<g id="sg-12" class="n"><circle cx="220.4" cy="507.3" r="7.5"/><text class="d" x="220.4" y="511.3">12</text></g>
<g id="sg-13" class="n"><circle cx="34.6" cy="536.7" r="7.5"/><text class="d" x="34.6" y="540.7">13</text></g>
<g id="sg-14" class="n"><circle cx="68.9" cy="537.3" r="7.5"/><text class="d" x="68.9" y="541.3">14</text></g>
<g id="sg-15" class="n"><circle cx="99.3" cy="537.3" r="7.5"/><text class="d" x="99.3" y="541.3">15</text></g>
<g id="sg-16" class="n"><circle cx="127.5" cy="537.3" r="7.5"/><text class="d" x="127.5" y="541.3">16</text></g>
<g id="sg-17" class="n"><circle cx="154.6" cy="537.3" r="7.5"/><text class="d" x="154.6" y="541.3">17</text></g>
<g id="sg-18" class="n"><circle cx="186.4" cy="551" r="7.5"/><text class="d" x="186.4" y="555">18</text></g>
<g id="sg-19" class="n"><circle cx="68.9" cy="565" r="7.5"/><text class="d" x="68.9" y="569">19</text></g>
<g id="sg-20" class="n"><circle cx="127.5" cy="565" r="7.5"/><text class="d" x="127.5" y="569">20</text></g>
<g id="sg-21" class="n"><circle cx="156" cy="565" r="7.5"/><text class="d" x="156" y="569">21</text></g>
<text class="lbl" x="131" y="620">Synthetic Graph</text>
</g>
</svg>
